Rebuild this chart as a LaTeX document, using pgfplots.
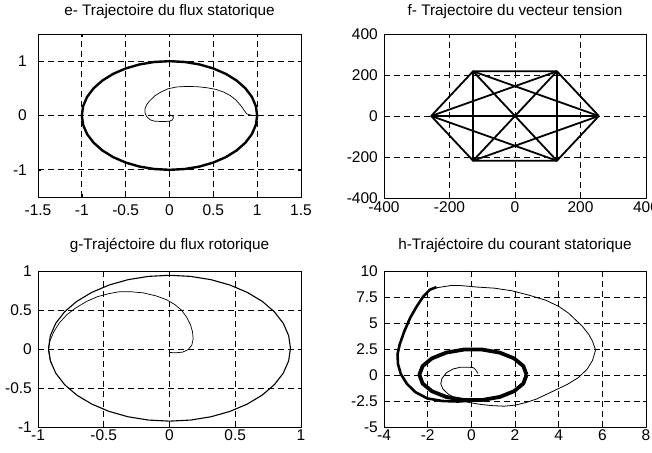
\documentclass[border=0pt]{standalone}
\usepackage{fontspec}
\setmainfont{Liberation Sans}
\usepackage{pgfplots}
\pgfplotsset{compat=1.18}
\pgfplotsset{
  mstyle/.style={
    scale only axis,
    anchor=south west,
    axis line style={line width=0.8bp},
    grid=major,
    major grid style={black, line width=0.7bp, dash pattern=on 6bp off 4bp},
    tick align=inside,
    tickpos=both,
    major tick length=3bp,
    tick style={line width=0.6bp, black},
    /pgf/number format/assume math mode=true,
    tick label style={font=\fontsize{15.5bp}{18bp}\selectfont},
    title style={font=\fontsize{15.3bp}{18bp}\selectfont, at={(0.5,1)}, anchor=base, yshift=13bp, inner sep=0pt},
    yticklabel style={anchor=east, inner sep=0pt, xshift=-6bp},
    xticklabel style={anchor=north, inner sep=0pt, yshift=-2.5bp},
    line join=round,
  },
}
\begin{document}
\begin{tikzpicture}
% e
\begin{axis}[mstyle, at={(38bp,256bp)}, width=263bp, height=163bp,
  xmin=-1.5, xmax=1.5, ymin=-1.5, ymax=1.5,
  xtick={-1.5,-1,-0.5,0,0.5,1,1.5}, ytick={-1,0,1},
  xticklabel style={yshift=-5bp}, yticklabel style={xshift=-5bp},
  title={e- Trajectoire du flux statorique}]
\addplot[black, line width=2.4bp] coordinates {(1,0)(0.985,0.174)(0.940,0.342)(0.866,0.5)(0.766,0.643)(0.643,0.766)(0.5,0.866)(0.342,0.940)(0.174,0.985)(0,1)(-0.174,0.985)(-0.342,0.940)(-0.5,0.866)(-0.643,0.766)(-0.766,0.643)(-0.866,0.5)(-0.940,0.342)(-0.985,0.174)(-1,0)(-0.985,-0.174)(-0.940,-0.342)(-0.866,-0.5)(-0.766,-0.643)(-0.643,-0.766)(-0.5,-0.866)(-0.342,-0.940)(-0.174,-0.985)(0,-1)(0.174,-0.985)(0.342,-0.940)(0.5,-0.866)(0.643,-0.766)(0.766,-0.643)(0.866,-0.5)(0.940,-0.342)(0.985,-0.174)(1,0)};
\addplot[black, line width=0.7bp] coordinates {(0,-0.02)(0,0.01)(0.025,0.005)(0.045,-0.03)(0.035,-0.08)(0,-0.105)(-0.05,-0.11)(-0.1,-0.11)(-0.17,-0.105)(-0.22,-0.08)(-0.26,-0.02)(-0.28,0.05)(-0.28,0.12)(-0.26,0.2)(-0.22,0.28)(-0.17,0.36)(-0.1,0.43)(-0.02,0.49)(0.08,0.525)(0.2,0.535)(0.32,0.53)(0.43,0.51)(0.53,0.48)(0.62,0.43)(0.70,0.36)(0.76,0.28)(0.81,0.19)(0.85,0.1)(0.88,0.03)(0.92,0.01)(0.97,0.0)(1.0,0)};
\end{axis}
% f
\begin{axis}[mstyle, at={(384bp,255bp)}, width=262bp, height=164bp,
  xmin=-400, xmax=400, ymin=-400, ymax=400,
  xtick={-400,-200,0,200,400}, ytick={-400,-200,0,200,400},
  xticklabel style={yshift=-1bp},
  title={f- Trajectoire du vecteur tension}]
\addplot[black, line width=1.8bp] coordinates {(256,0)(128,218)(-128,218)(-256,0)(-128,-218)(128,-218)(256,0)};
\addplot[black, line width=1.8bp] coordinates {(256,0)(-128,218)(-128,-218)(256,0)};
\addplot[black, line width=1.8bp] coordinates {(128,218)(-256,0)(128,-218)(128,218)};
\addplot[black, line width=1.8bp] coordinates {(256,0)(-256,0)};
\addplot[black, line width=1.8bp] coordinates {(128,218)(-128,-218)};
\addplot[black, line width=1.8bp] coordinates {(-128,218)(128,-218)};
\end{axis}
% g
\begin{axis}[mstyle, at={(38bp,26bp)}, width=263bp, height=156bp,
  xmin=-1, xmax=1, ymin=-1, ymax=1,
  xtick={-1,-0.5,0,0.5,1}, ytick={-1,-0.5,0,0.5,1},
  title style={yshift=3bp},
  title={g-Trajéctoire du flux rotorique}]
\addplot[black, line width=1.1bp] coordinates {(0.92,0.01)(0.906,0.172)(0.865,0.330)(0.797,0.478)(0.705,0.611)(0.591,0.726)(0.46,0.820)(0.315,0.889)(0.160,0.931)(0,0.945)(-0.160,0.931)(-0.315,0.889)(-0.46,0.820)(-0.591,0.726)(-0.705,0.611)(-0.797,0.478)(-0.865,0.330)(-0.906,0.172)(-0.92,0.01)(-0.906,-0.152)(-0.865,-0.310)(-0.797,-0.458)(-0.705,-0.591)(-0.591,-0.706)(-0.46,-0.800)(-0.315,-0.869)(-0.160,-0.911)(0,-0.925)(0.160,-0.911)(0.315,-0.869)(0.46,-0.800)(0.591,-0.706)(0.705,-0.591)(0.797,-0.458)(0.865,-0.310)(0.906,-0.152)(0.92,0.01)};
\addplot[black, line width=0.7bp] coordinates {(0,0)(0,-0.045)(0.05,-0.048)(0.1,-0.04)(0.14,-0.01)(0.17,0.05)(0.18,0.13)(0.175,0.22)(0.16,0.31)(0.13,0.41)(0.09,0.50)(0.04,0.57)(-0.02,0.63)(-0.1,0.68)(-0.2,0.72)(-0.3,0.735)(-0.38,0.735)(-0.46,0.71)(-0.55,0.67)(-0.63,0.61)(-0.71,0.53)(-0.78,0.44)(-0.84,0.33)(-0.88,0.22)(-0.91,0.1)(-0.92,-0.02)(-0.91,-0.12)(-0.895,-0.2)};
\end{axis}
% h
\begin{axis}[mstyle, at={(384bp,26bp)}, width=262bp, height=156bp,
  xmin=-4, xmax=8, ymin=-5, ymax=10,
  xtick={-4,-2,0,2,4,6,8}, ytick={-5,-2.5,0,2.5,5,7.5,10},
  title style={yshift=3bp},
  title={h-Trajéctoire du courant statorique}]
\addplot[black, line width=3.8bp] coordinates {(2.53,0.02)(2.382,0.861)(1.956,1.601)(1.303,2.150)(0.501,2.443)(-0.351,2.443)(-1.153,2.150)(-1.806,1.601)(-2.232,0.861)(-2.38,0.02)(-2.232,-0.821)(-1.806,-1.561)(-1.153,-2.110)(-0.351,-2.403)(0.501,-2.403)(1.303,-2.110)(1.956,-1.561)(2.382,-0.821)(2.53,0.02)};
\addplot[black, line width=0.8bp] coordinates {(0.3,0.15)(0.2,0.5)(0.1,0.7)(-0.1,0.75)(-0.5,0.75)(-0.85,0.57)(-1.15,0.2)(-1.35,-0.35)(-1.4,-0.85)(-1.3,-1.35)(-1.05,-1.85)(-0.65,-2.3)(-0.1,-2.65)(0.5,-2.85)(1.0,-2.95)(1.5,-3.0)(2.0,-2.9)(2.5,-2.65)(3.0,-2.3)(3.5,-1.8)(3.9,-1.4)(4.4,-0.9)(4.9,-0.25)(5.3,0.55)(5.55,1.4)(5.69,2.4)(5.55,3.25)(5.38,3.9)(5.08,4.7)(4.75,5.35)(4.45,5.95)(4.0,6.6)(3.4,7.2)(2.6,7.7)(1.85,8.1)(1.05,8.35)(0.3,8.45)(-0.5,8.6)(-0.95,8.6)(-1.55,8.4)(-1.9,8.2)};
\addplot[black, line width=2.6bp] coordinates {(-1.6,8.45)(-1.9,8.2)(-2.2,7.55)(-2.5,6.6)(-2.8,5.5)(-3.07,4.2)(-3.28,2.95)(-3.38,2.0)(-3.36,1.05)(-3.23,0.1)(-2.95,-0.85)(-2.56,-1.65)(-2.02,-2.25)(-1.33,-2.5)(-0.6,-2.55)(0.1,-2.45)};
\end{axis}
\pgfresetboundingbox
\path[use as bounding box] (0,0) rectangle (652bp,453bp);
\end{tikzpicture}
\end{document}
